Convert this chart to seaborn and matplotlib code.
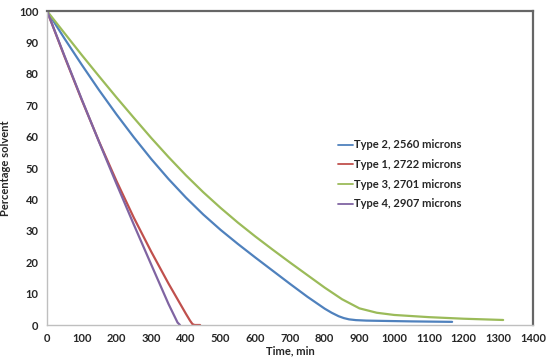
import numpy as np
import pandas as pd
import matplotlib
matplotlib.use("Agg")
import matplotlib.pyplot as plt
from matplotlib.ticker import MultipleLocator
import seaborn as sns

# ---- data ----
t_type2 = [0, 50, 100, 150, 200, 250, 300, 350, 400, 450, 500, 550, 600,
           650, 700, 750, 800, 820, 840, 855, 870, 890, 920, 970, 1050, 1167]
y_type2 = [100, 91.3, 82.9, 74.8, 67.1, 59.8, 52.9, 46.5, 40.6, 35.2, 30.3, 25.8, 21.5,
           17.3, 13.1, 9.0, 5.2, 3.9, 2.8, 2.2, 1.8, 1.55, 1.4, 1.3, 1.15, 1.0]

t_type1 = [0, 50, 100, 150, 200, 250, 300, 350, 400, 412, 419, 425, 441]
y_type1 = [100, 85.6, 71.7, 58.4, 45.9, 34.2, 23.4, 13.2, 3.6, 1.4, 0.3, 0, 0]

t_type3 = [0, 50, 100, 150, 200, 250, 300, 350, 400, 450, 500, 550, 600, 650, 700, 750,
           800, 850, 900, 950, 1000, 1100, 1200, 1314]
y_type3 = [100, 93.0, 86.0, 79.2, 72.5, 66.0, 59.6, 53.5, 47.7, 42.3, 37.3, 32.6, 28.2,
           24.0, 19.9, 15.9, 11.9, 8.2, 5.3, 3.9, 3.2, 2.5, 2.0, 1.6]

t_type4 = [0, 50, 100, 150, 200, 250, 300, 350, 376, 383]
y_type4 = [100, 85.8, 71.9, 58.3, 45.0, 32.0, 19.3, 6.7, 0.8, 0]

labels = ["Type 2, 2560 microns", "Type 1, 2722 microns",
          "Type 3, 2701 microns", "Type 4, 2907 microns"]
colors = ["#4F81BD", "#C0504D", "#9BBB59", "#8064A2"]

frames = []
for lab, t, y in zip(labels, [t_type2, t_type1, t_type3, t_type4],
                     [y_type2, y_type1, y_type3, y_type4]):
    frames.append(pd.DataFrame({"time": t, "pct": y, "series": lab}))
df = pd.concat(frames, ignore_index=True)

sns.set_style("white")
plt.rcParams["font.family"] = ["Lato", "DejaVu Sans"]

fig = plt.figure(figsize=(5.5, 3.63), dpi=100)
ax = fig.add_axes([47 / 550, 1 - 325 / 363, (533 - 47) / 550, (325 - 11) / 363])

sns.lineplot(data=df, x="time", y="pct", hue="series", hue_order=labels,
             palette=colors, sort=False, estimator=None, linewidth=1.6, ax=ax)

ax.set_xlim(0, 1400)
ax.set_ylim(0, 100)
ax.xaxis.set_major_locator(MultipleLocator(100))
ax.xaxis.set_minor_locator(MultipleLocator(10))
ax.yaxis.set_major_locator(MultipleLocator(10))
ax.yaxis.set_minor_locator(MultipleLocator(1))

for side in ["left", "bottom"]:
    ax.spines[side].set_color("#BFBFBF")
    ax.spines[side].set_linewidth(1.0)
for side in ["top", "right"]:
    ax.spines[side].set_color("#666666")
    ax.spines[side].set_linewidth(1.6)
    ax.spines[side].set_visible(True)

ax.tick_params(axis="both", which="major", direction="out", length=4, width=1,
               color="#BFBFBF", labelsize=8, pad=2)
ax.tick_params(axis="both", which="minor", direction="in", length=3, width=0.8,
               color="#BFBFBF")
for lbl in ax.get_xticklabels() + ax.get_yticklabels():
    lbl.set_fontweight("bold")

ax.set_xlabel("Time, min", fontsize=8, fontweight="bold", labelpad=1)
ax.set_ylabel("Percentage solvent", fontsize=8, fontweight="bold", labelpad=6)

leg = ax.legend(loc="upper left", bbox_to_anchor=(0.59, 0.605), frameon=False,
                fontsize=8, handlelength=1.3, handletextpad=0.15, labelspacing=0.78,
                borderaxespad=0)
for txt in leg.get_texts():
    txt.set_fontweight("bold")
for h in leg.get_lines():
    h.set_linewidth(1.3)

fig.savefig("out.png", dpi=100)
